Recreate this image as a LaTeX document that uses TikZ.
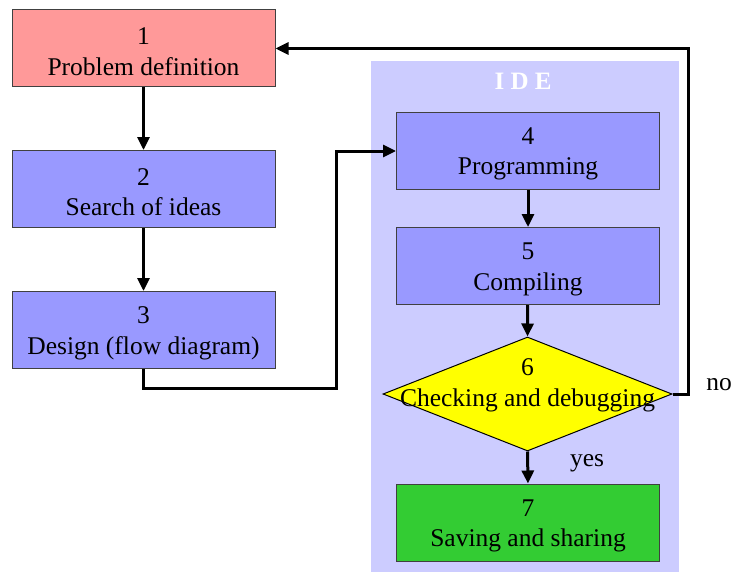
\documentclass[tikz,border=0pt]{standalone}
\usepackage{fontspec}
\setmainfont{Liberation Serif}
\usetikzlibrary{arrows.meta,shapes.geometric}
\definecolor{salmonbox}{HTML}{FF9999}
\definecolor{bluebox}{HTML}{9999FF}
\definecolor{idebg}{HTML}{CCCCFF}
\definecolor{yellowbox}{HTML}{FFFF00}
\definecolor{greenbox}{HTML}{33CC33}
\definecolor{boxline}{HTML}{404040}
\begin{document}
\begin{tikzpicture}[x=1pt,y=-1pt,
  txt/.style={font=\fontsize{25.5}{30.5}\selectfont},
  box/.style={txt, draw=boxline, line width=1pt, minimum width=263pt, minimum height=77pt, align=center, inner sep=0pt},
  decision/.style={diamond, draw=black, line width=1pt, fill=yellowbox, minimum width=289pt, minimum height=114pt, inner sep=0pt},
  flow/.style={line width=3pt, -{Triangle[length=13pt,width=12pt]}},
  plain/.style={line width=3pt}]
\useasboundingbox (0,0) rectangle (743,575);
\fill[white] (0,0) rectangle (743,575);
% IDE background
\node[fill=idebg, minimum width=308pt, minimum height=511pt, inner sep=0pt] (ide) at (525,316.5) {};
\node[font=\fontsize{25}{30}\selectfont\bfseries, text=white] (idelabel) at (523,81) {I D E};
% boxes
\node[box, fill=salmonbox] (b1) at (143.5,48.5) {\rule{0pt}{23pt}1\\Problem definition};
\node[box, fill=bluebox] (b2) at (143.5,189) {\rule{0pt}{23pt}2\\Search of ideas};
\node[box, fill=bluebox] (b3) at (143.5,330) {\rule{0pt}{23pt}3\\Design (flow diagram)};
\node[box, fill=bluebox] (b4) at (528,151) {\rule{0pt}{23pt}4\\Programming};
\node[box, fill=bluebox] (b5) at (528,266) {\rule{0pt}{23pt}5\\Compiling};
\node[decision] (d6) at (527.5,394) {};
\node[txt, align=center, inner sep=0pt] (t6) at (527.5,385.5) {6\\Checking and debugging};
\node[box, fill=greenbox] (b7) at (528,522.5) {\rule{0pt}{23pt}7\\Saving and sharing};
% labels
\node[txt] (no) at (719,385) {no};
\node[txt] (yes) at (587,463.5) {yes};
% connectors
\coordinate (c1) at (336,388);
\draw[flow] (b1) -- (b2);
\draw[flow] (b2) -- (b3);
\draw[flow] (b3.south) |- (c1) |- (b4.west);
\draw[flow] (b4) -- (b5);
\draw[flow] (b5) -- (d6.north);
\draw[flow] (d6.south) -- (b7.north);
\draw[flow] (d6.east) -- ++(16,0) |- (b1.east);
\end{tikzpicture}
\end{document}
